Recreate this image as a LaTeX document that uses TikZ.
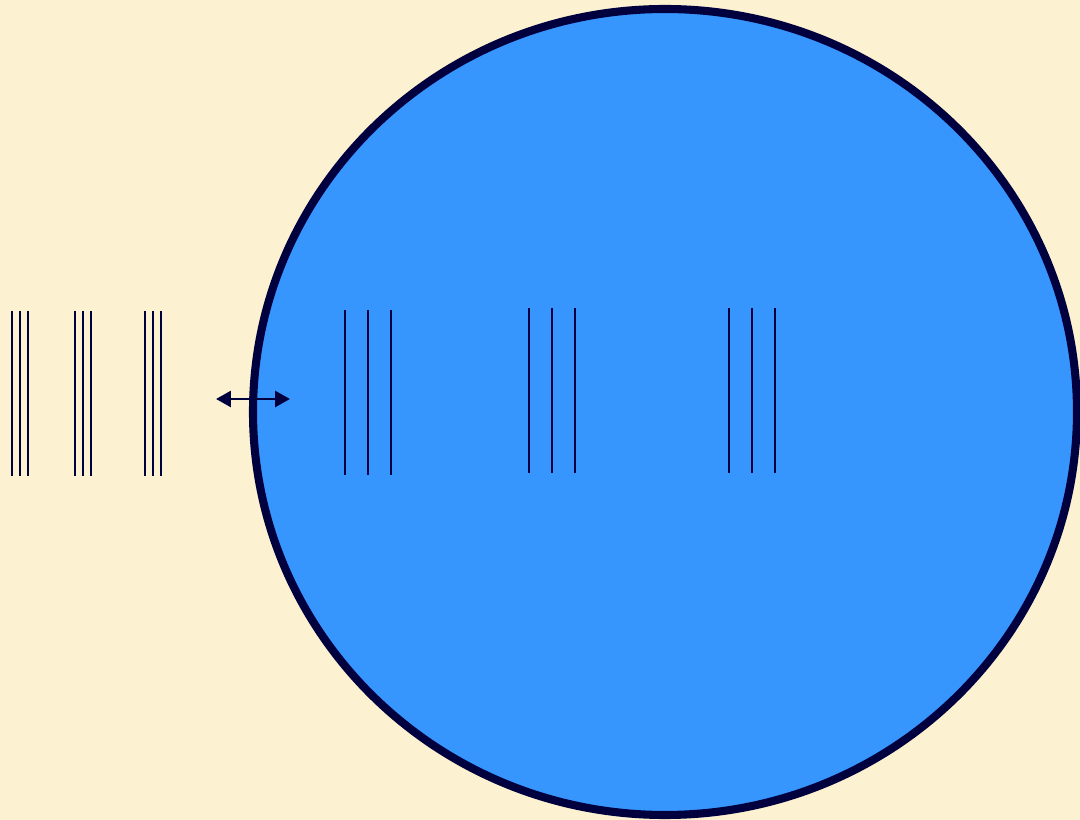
\documentclass[tikz,border=0pt]{standalone}
\usepackage{xcolor}
\usetikzlibrary{arrows.meta}

\definecolor{cream}{HTML}{FCF1D0}
\definecolor{poolblue}{HTML}{3795FE}
\definecolor{navy}{HTML}{00003F}

\begin{document}
\begin{tikzpicture}[
      x=0.02cm, y=-0.02cm,
      rim/.style={draw=navy, fill=poolblue, line width=4.6pt},
      bar/.style={draw=navy, line width=1.7pt},
      link/.style={navy, line width=1.6pt, {Triangle[length=3mm, width=3.2mm]}-{Triangle[length=3mm, width=3.2mm]}}
    ]
    \fill[cream] (0,0) rectangle (1080,820);
    \useasboundingbox (0,0) rectangle (1080,820);

    % the disc
    \draw[rim] (665,412) ellipse [x radius=412, y radius=403];

    % outside groups (tight)
    \foreach \x in {12,75,145}
      \foreach \d in {0,8,16}
        \draw[bar] (\x+\d,311) -- (\x+\d,476);

    % inside groups (wide)
    \foreach \x/\y in {345/310, 529/308, 729/308}
      \foreach \d in {0,23,46}
        \draw[bar] (\x+\d,\y) -- (\x+\d,\y+165);

    % exchange across the rim
    \coordinate (outer) at (216,399);
    \coordinate (inner) at (290,399);
    \draw[link] (outer) -- (inner);
  \end{tikzpicture}
\end{document}
